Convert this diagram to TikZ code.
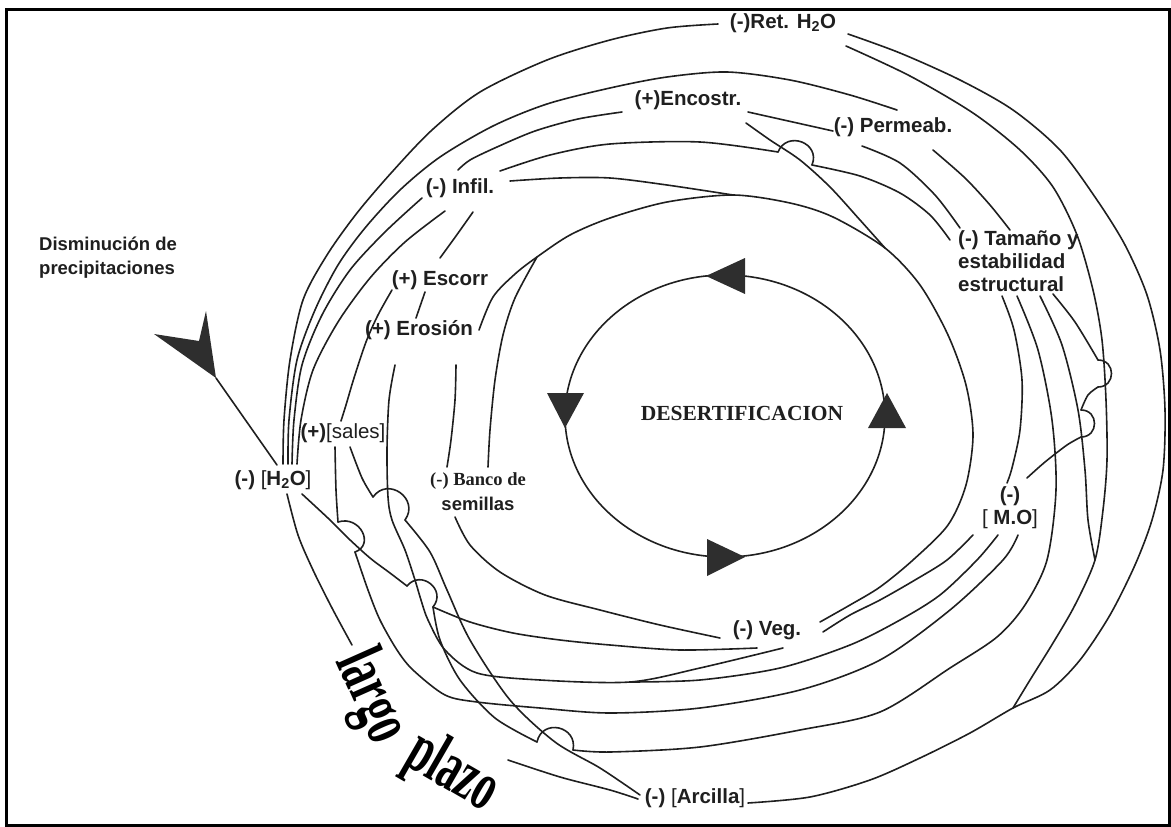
\documentclass[tikz,border=0pt]{standalone}
\usepackage{fontspec}
\setmainfont{Liberation Serif}
\setsansfont{Liberation Sans}
\begin{document}
\begin{tikzpicture}[x=1pt,y=-1pt,
  ln/.style={line width=1.6pt, draw=black!88, line cap=round, line join=round},
  lbl/.style={font=\sffamily\bfseries\fontsize{20.5}{23}\selectfont, inner sep=0pt, text=black!88},
  tri/.style={fill=black!82, draw=none}]
\useasboundingbox (0,0) rectangle (1171,827);
\draw[line width=3pt] (6,9) rectangle (1169.5,825.5);

% ---------- labels ----------
\node[lbl] (ret) at (783,23) {(-)Ret. H\textsubscript{2}O};
\node[lbl] (enc) at (688,100) {(+)Encostr.};
\node[lbl] (perm) at (893,127) {(-) Permeab.};
\node[lbl] (infil) at (460,188) {(-) Infil.};
\node[lbl, align=left, anchor=north west] (tam) at (958,230) {(-) Tamaño y\\estabilidad\\estructural};
\node[lbl] (escorr) at (440,280) {(+) Escorr};
\node[lbl] (eros) at (419,330) {(+) Erosión};
\node[lbl, align=left, anchor=west, font=\sffamily\bfseries\fontsize{18.5}{24}\selectfont] (dism) at (39,258) {Disminución de\\precipitaciones};
\node[lbl] (sales) at (343,433) {(+){\mdseries[sales]}};
\node[lbl] (h2o) at (273,480) {(-) {\mdseries[}H\textsubscript{2}O{\mdseries]}};
\node[align=center, inner sep=0pt, text=black!88, font=\fontsize{18.5}{25}\selectfont] (banco) at (478,492)
  {{\rmfamily\bfseries (-) Banco de}\\{\sffamily\bfseries semillas}};
\node[inner sep=0pt, text=black!88, font=\rmfamily\bfseries\fontsize{21.5}{24}\selectfont] (desert) at (742,413) {DESERTIFICACION};
\node[lbl, align=center] (mo) at (1010,508) {(-)\\{\mdseries[} M.O{\mdseries]}};
\node[lbl] (veg) at (767,630) {(-) Veg.};
\node[lbl] (arc) at (695,798) {(-) {\mdseries[}Arcilla{\mdseries]}};
\node[rotate=-66, inner sep=0pt] (largo) at (370,697) {\scalebox{0.6}[1]{\bfseries\fontsize{70}{70}\selectfont largo}};
\node[rotate=-30, inner sep=0pt] (plazo) at (452,773) {\scalebox{0.6}[1]{\bfseries\fontsize{70}{70}\selectfont plazo}};

% ---------- connector end points ----------
\coordinate (h2oA) at (283,464); \coordinate (h2oB) at (288,464);
\coordinate (h2oC) at (292,464); \coordinate (h2oD) at (297,464);
\coordinate (h2oE) at (287,494); \coordinate (h2oF) at (302,494);
\coordinate (h2oP) at (277,465); \coordinate (arrtip) at (216,378);
\coordinate (retW) at (718,24); \coordinate (retE1) at (848,34); \coordinate (retE2) at (846,46);
\coordinate (permNW) at (897,110); \coordinate (permW) at (833,131);
\coordinate (permS) at (862,146); \coordinate (permE) at (933,150);
\coordinate (encW) at (622,112); \coordinate (encE) at (748,112); \coordinate (encSE) at (746,123);
\coordinate (infW) at (422,198); \coordinate (infS1) at (445,211); \coordinate (infS2) at (473,212);
\coordinate (infN) at (458,170); \coordinate (infNE) at (500,171); \coordinate (infE) at (510,181);
\coordinate (escN) at (440,258); \coordinate (escW) at (392,290); \coordinate (escS) at (425,292);
\coordinate (erN) at (416,318); \coordinate (erS1) at (395,365); \coordinate (erS2) at (456,365);
\coordinate (erE) at (479,330);
\coordinate (salN) at (341,421); \coordinate (salS1) at (335,447); \coordinate (salS2) at (350,447);
\coordinate (bancoN) at (488,467); \coordinate (bancoNW) at (447,467); \coordinate (bancoS) at (455,517);
\coordinate (tamNW) at (960,228); \coordinate (tamN) at (1010,230); \coordinate (tamW) at (950,240);
\coordinate (tamS1) at (1002,296); \coordinate (tamS2) at (1017,296);
\coordinate (tamS3) at (1040,296); \coordinate (tamS4) at (1053,294);
\coordinate (moN1) at (1007,483); \coordinate (moN2) at (1027,478);
\coordinate (moS1) at (973,535); \coordinate (moS2) at (998,535); \coordinate (moS3) at (1018,535);
\coordinate (vegW) at (720,638); \coordinate (vegS1) at (757,648); \coordinate (vegS2) at (783,648);
\coordinate (vegE1) at (820,622); \coordinate (vegE2) at (823,632);
\coordinate (arcW1) at (640,795); \coordinate (arcW2) at (638,799); \coordinate (arcE) at (748,803);
\coordinate (lpA) at (352,645); \coordinate (lpB) at (508,760);
\coordinate (m1) at (537,257); \coordinate (m2) at (885,248); \coordinate (m3) at (1013,708);
\coordinate (m4) at (733,195); \coordinate (m5) at (1095,560); \coordinate (m6) at (630,682);

% ---------- precipitation arrow ----------
\fill[tri] (206,311) -- (arrtip) -- (154,334) -- (199,341) -- cycle;
\draw[ln] (arrtip) -- (h2oP);

% ---------- central loop ----------
\draw[ln] (725,416) ellipse [x radius=160, y radius=141];
\fill[tri] (706,276) -- (745,258) -- (745,294) -- cycle;
\fill[tri] (887,393) -- (906,428) -- (868,428) -- cycle;
\fill[tri] (565,428) -- (547,393) -- (584,393) -- cycle;
\fill[tri] (745,557) -- (707,539) -- (707,576) -- cycle;

% ---------- upper-left arcs ----------
\draw[ln] plot[smooth] coordinates {(h2oA) (284,420) (290,360) (303,300) (327,255) (357,213) (392,172) (432,130) (480,92) (547,60) (610,40) (667,28) (retW)};
\draw[ln] plot[smooth] coordinates {(h2oB) (289,420) (297,360) (315,310) (338,265) (365,228) (400,190) (440,157) (493,126) (547,104) (610,88) (667,77) (727,72) (790,80) (850,95) (permNW)};
\draw[ln] plot[smooth] coordinates {(h2oC) (294,420) (302,365) (322,315) (350,270) (385,232) (infW)};
\draw[ln] plot[smooth] coordinates {(h2oD) (301,420) (313,370) (338,322) (370,278) (405,242) (infS1)};
\draw[ln] plot[smooth] coordinates {(infS2) (456,236) (escN)};
\draw[ln] plot[smooth] coordinates {(escW) (378,315) (366,342) (354,378) (346,405) (salN)};
\draw[ln] (escS) -- (erN);
\draw[ln] plot[smooth] coordinates {(encW) (578,119) (535,131) (497,147) (470,160) (infN)};
\draw[ln] plot[smooth] coordinates {(infNE) (550,155) (610,144) (700,142) (778,152)};
\draw[ln] (778,152) .. controls (787,130) and (821,143) .. (812,165);
\draw[ln] plot[smooth] coordinates {(812,165) (860,176) (900,193) (930,215) (tamW)};
\draw[ln] (encE) -- (permW);
\draw[ln] plot[smooth] coordinates {(permS) (900,163) (935,195) (tamNW)};
\draw[ln] plot[smooth] coordinates {(permE) (965,178) (990,205) (tamN)};
\draw[ln] plot[smooth] coordinates {(encSE) (770,140) (800,160) (830,187) (860,220) (m2)};
\draw[ln] plot[smooth] coordinates {(infE) (560,178) (610,178) (667,185) (m4)};
\draw[ln] plot[smooth] coordinates {(erE) (493,297) (515,274) (m1) (570,235) (610,218) (667,202) (m4) (790,203) (833,217) (m2) (920,285) (948,335) (966,385) (973,435) (966,485) (948,525) (913,560) (880,587) (850,605) (vegE1)};
\draw[ln] plot[smooth] coordinates {(bancoN) (490,430) (495,380) (503,335) (515,298) (m1)};
\draw[ln] plot[smooth] coordinates {(erS2) (455,400) (451,440) (bancoNW)};

% ---------- right arcs ----------
\draw[ln] plot[smooth] coordinates {(retE1) (900,53) (960,80) (1013,110) (1060,150) (1097,200) (1125,245) (1147,295) (1160,350) (1165,410) (1163,470) (1152,520) (1135,565) (1110,615) (1080,660) (1050,690) (m3) (970,733) (920,758) (870,780) (810,797) (arcE)};
\draw[ln] plot[smooth] coordinates {(retE2) (910,76) (973,113) (1020,150) (1053,187) (1077,235) (1093,290) (1102,340) (1106,400) (1107,460) (1103,510) (m5) (1075,605) (1053,643) (1030,680) (m3)};
\draw[ln] plot[smooth] coordinates {(tamS4) (1075,322) (1098,360)};
\draw[ln] (1098,360) .. controls (1116,360) and (1116,387) .. (1098,387);
\draw[ln] plot[smooth] coordinates {(1098,387) (1088,395) (1081,410)};
\draw[ln] (1081,410) .. controls (1099,410) and (1099,437) .. (1081,437);
\draw[ln] plot[smooth] coordinates {(1081,437) (1067,445) (1045,462) (moN2)};
\draw[ln] plot[smooth] coordinates {(tamS1) (1014,330) (1022,380) (1020,430) (1012,468) (moN1)};
\draw[ln] plot[smooth] coordinates {(tamS3) (1062,345) (1078,410) (1085,470) (1088,520) (m5)};
\draw[ln] plot[smooth] coordinates {(moS1) (947,560) (915,580) (880,600) (850,615) (vegE2)};
\draw[ln] plot[smooth] coordinates {(moS2) (977,560) (940,595) (900,620) (850,645) (780,668) (700,680) (m6)};

% ---------- lower arcs ----------
\draw[ln] plot[smooth] coordinates {(h2oE) (298,535) (313,570) (332,608) (lpA)};
\draw[ln] plot[smooth] coordinates {(lpB) (560,777) (610,790) (arcW2)};
\draw[ln] plot[smooth] coordinates {(h2oF) (330,520) (348,538) (370,558) (390,573) (407,586)};
\draw[ln] (407,586) .. controls (421,569) and (447,590) .. (433,607);
\draw[ln] plot[smooth] coordinates {(433,607) (470,622) (513,633) (560,640) (610,645) (680,650) (vegS1)};
\draw[ln] plot[smooth] coordinates {(bancoS) (470,545) (500,572) (545,595) (600,610) (660,625) (vegW)};
\draw[ln] plot[smooth] coordinates {(erS1) (389,400) (387,450) (388,497) (392,520) (405,550) (415,580) (421,600) (428,620) (445,650) (477,673) (540,680) (m6) (700,668) (vegS2)};
\draw[ln] plot[smooth] coordinates {(salS1) (336,490) (338,522)};
\draw[ln] (338,522) .. controls (360,515) and (375,545) .. (355,552);
\draw[ln] plot[smooth] coordinates {(355,552) (368,590) (380,620) (397,650) (413,670) (445,695) (477,702) (540,708) (610,713) (700,708) (800,690) (880,660) (950,610) (1003,560) (moS3)};
\draw[ln] plot[smooth] coordinates {(salS2) (362,478) (373,497)};
\draw[ln] (373,497) .. controls (388,476) and (420,499) .. (405,520);
\draw[ln] plot[smooth] coordinates {(405,520) (430,552) (447,590) (470,640) (510,700) (555,742) (600,768) (arcW1)};
\draw[ln] plot[smooth] coordinates {(433,607) (440,640) (460,680) (495,718) (537,742)};
\draw[ln] (537,742) .. controls (542,718) and (578,726) .. (573,750);
\draw[ln] plot[smooth] coordinates {(573,750) (610,752) (700,747) (800,730) (880,712) (950,668) (997,637) (1025,605) (1047,560) (1056,490) (1052,420) (1038,350) (tamS2)};
\end{tikzpicture}
\end{document}
